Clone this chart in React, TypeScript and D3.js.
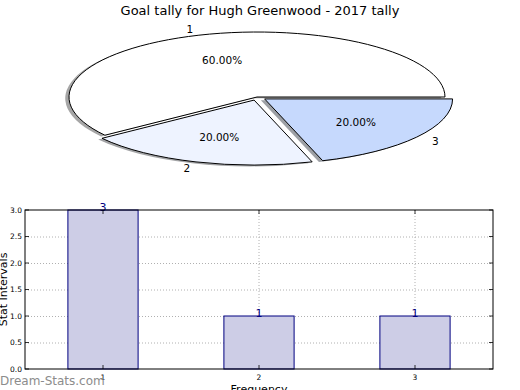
import React from "react";
import * as d3 from "d3";

// pie data
const sliceLabels = ["1", "2", "3"];
const sliceValues = [3, 1, 1];
const sliceExplode = [0, 0.05, 0.05];
const sliceColors = ["#ffffff", "#eef3ff", "#c6d9fd"];

// bar data
const barCategories = [1, 2, 3];
const barValues = [3, 1, 1];
const yTickValues = [0, 0.5, 1, 1.5, 2, 2.5, 3];

const W = 520;
const H = 390;
const FONT = "DejaVu Sans, sans-serif";

const App = () => {
  // ---- pie (drawn on an ellipse, matplotlib style) ----
  const cx = 257, cy = 97, rx = 188, ry = 65;
  const px = d3.scaleLinear().domain([-1, 1]).range([cx - rx, cx + rx]);
  const py = d3.scaleLinear().domain([-1, 1]).range([cy + ry, cy - ry]);
  const total = d3.sum(sliceValues);

  const pie = d3.pie<number>().sort(null).value(d => d);
  const slices = pie(sliceValues);
  const arc = d3.arc<any>().innerRadius(0).outerRadius(1);

  const wedges = slices.map((s, i) => {
    const mid = (s.startAngle + s.endAngle) / 2; // ccw from 3 o'clock
    const ox = Math.cos(mid) * sliceExplode[i];
    const oy = Math.sin(mid) * sliceExplode[i];
    const d = arc({ startAngle: Math.PI / 2 - s.endAngle, endAngle: Math.PI / 2 - s.startAngle }) as string;
    const c = d3.rgb(sliceColors[i]);
    const shadow = d3.rgb(c.r * 0.3, c.g * 0.3, c.b * 0.3).toString();
    return { i, mid, ox, oy, d, shadow };
  });

  // ---- bars ----
  const m = { left: 25, right: 493, top: 210, bottom: 369 };
  const x = d3.scaleLinear().domain([0.5, 3.5]).range([m.left, m.right]);
  const y = d3.scaleLinear().domain([0, 3]).range([m.bottom, m.top]);
  const barW = x(0.45) - x(0);
  const tick = 4;

  return (
    <svg width={W} height={H} style={{ position: "absolute", left: 0, top: 0, background: "#fff" }}
      fontFamily={FONT}>
      <text x={W / 2} y={15} textAnchor="middle" fontSize={13}>
        Goal tally for Hugh Greenwood - 2017 tally
      </text>

      {/* shadows */}
      {wedges.map(w => (
        <path key={"s" + w.i} d={w.d} fill={w.shadow} fillOpacity={0.5}
          transform={`translate(${px(w.ox - 0.02)},${py(w.oy - 0.02)}) scale(${rx},${ry})`} />
      ))}
      {wedges.map(w => (
        <path key={"w" + w.i} d={w.d} fill={sliceColors[w.i]} stroke="#000" strokeWidth={1}
          vectorEffect="non-scaling-stroke" strokeLinejoin="round"
          transform={`translate(${px(w.ox)},${py(w.oy)}) scale(${rx},${ry})`} />
      ))}
      {wedges.map(w => {
        const lx = Math.cos(w.mid) * 1.1 + w.ox;
        const ly = Math.sin(w.mid) * 1.1 + w.oy;
        const tx = Math.cos(w.mid) * 0.6 + w.ox;
        const ty = Math.sin(w.mid) * 0.6 + w.oy;
        return (
          <g key={"t" + w.i} fontSize={10.5}>
            <text x={px(lx)} y={py(ly)} dy="0.35em" textAnchor={lx > 0 ? "start" : "end"}>
              {sliceLabels[w.i]}
            </text>
            <text x={px(tx)} y={py(ty)} dy="0.35em" textAnchor="middle">
              {(sliceValues[w.i] / total * 100).toFixed(2)}%
            </text>
          </g>
        );
      })}

      {/* bar chart */}
      <g stroke="#b0b0b0" strokeWidth={1} strokeDasharray="1,2">
        {yTickValues.slice(1, -1).map(v => (
          <line key={"gy" + v} x1={m.left} x2={m.right} y1={y(v) + 0.5} y2={y(v) + 0.5} />
        ))}
        {barCategories.map(c => (
          <line key={"gx" + c} x1={x(c)} x2={x(c)} y1={m.top} y2={m.bottom} />
        ))}
      </g>
      {barCategories.map((c, i) => (
        <g key={"b" + c}>
          <rect x={x(c) - barW / 2} y={y(barValues[i])} width={barW} height={y(0) - y(barValues[i])}
            fill="#cdcde6" stroke="#000080" strokeWidth={1} />
          <text x={x(c)} y={y(barValues[i]) + 1} textAnchor="middle" fontSize={11} fill="#000080">
            {barValues[i]}
          </text>
        </g>
      ))}
      <rect x={m.left} y={m.top} width={m.right - m.left} height={m.bottom - m.top}
        fill="none" stroke="#000" strokeWidth={1} />
      <g stroke="#000" strokeWidth={0.8}>
        {yTickValues.map(v => (
          <g key={"ty" + v}>
            <line x1={m.left} x2={m.left + tick} y1={y(v)} y2={y(v)} />
            <line x1={m.right} x2={m.right - tick} y1={y(v)} y2={y(v)} />
          </g>
        ))}
        {barCategories.map(c => (
          <g key={"tx" + c}>
            <line x1={x(c)} x2={x(c)} y1={m.bottom} y2={m.bottom - tick} />
            <line x1={x(c)} x2={x(c)} y1={m.top} y2={m.top + tick} />
          </g>
        ))}
      </g>
      <g fontSize={7.5} fill="#000">
        {yTickValues.map(v => (
          <text key={"ly" + v} x={m.left - 3} y={y(v)} dy="0.35em" textAnchor="end">
            {d3.format(".1f")(v)}
          </text>
        ))}
        {barCategories.map(c => (
          <text key={"lx" + c} x={x(c)} y={m.bottom + 11} textAnchor="middle">{c}</text>
        ))}
      </g>
      <text transform={`translate(7,${(m.top + m.bottom) / 2}) rotate(-90)`} textAnchor="middle" fontSize={11}>
        Stat Intervals
      </text>
      <text x={(m.left + m.right) / 2} y={m.bottom + 24} textAnchor="middle" fontSize={11}>
        Frequency
      </text>
      <text x={0} y={385} fontSize={12} fill="#8c8c8c">Dream-Stats.com</text>
    </svg>
  );
};

export default App;
